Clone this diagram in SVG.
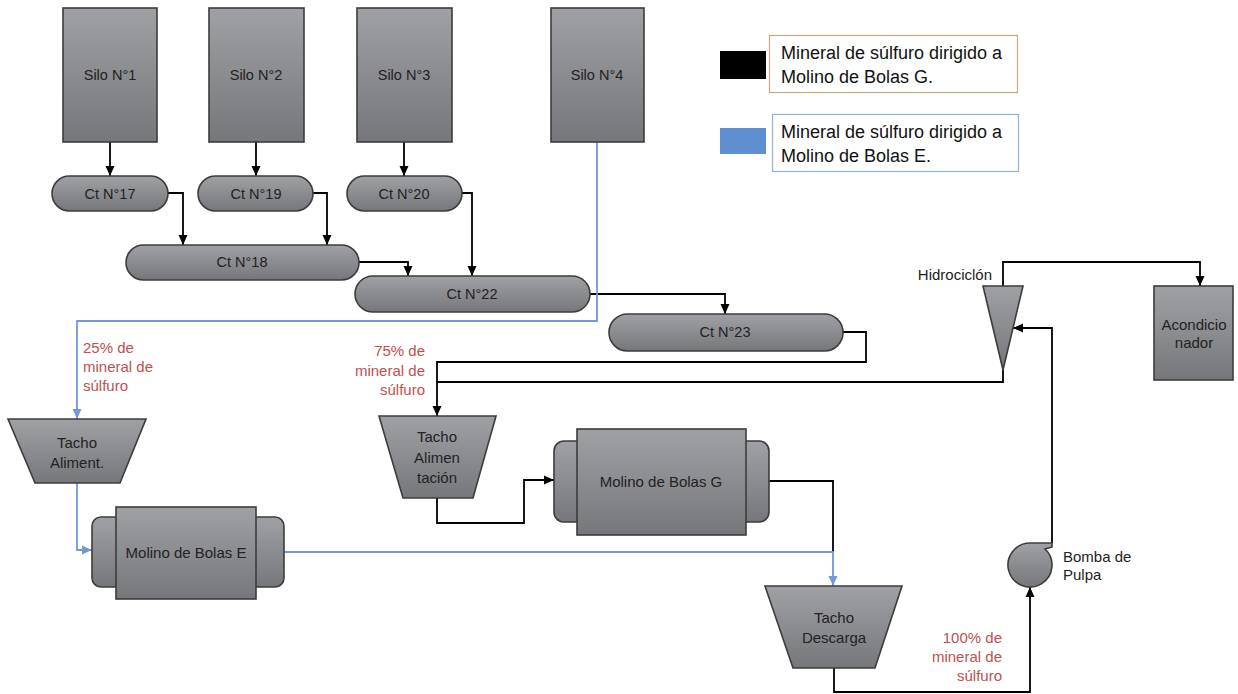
<svg xmlns="http://www.w3.org/2000/svg" width="1238" height="694" viewBox="0 0 1238 694">
  <style>
    .eq { fill: url(#grey); stroke: #3c3c3c; stroke-width: 1.6; }
    .lbl { font-family: "Liberation Sans", Arial, sans-serif; font-size: 14.5px; fill: #222; text-anchor: middle; }
    .lbl15 { font-family: "Liberation Sans", Arial, sans-serif; font-size: 15px; fill: #222; text-anchor: middle; }
    .note { font-family: "Liberation Sans", Arial, sans-serif; font-size: 15px; fill: #C0504D; }
    .side { font-family: "Liberation Sans", Arial, sans-serif; font-size: 15px; fill: #222; }
    .leg { font-family: "Liberation Sans", Arial, sans-serif; font-size: 18px; fill: #111; }
    .blk { fill: none; stroke: #000; stroke-width: 1.8; }
    .blu { fill: none; stroke: #6F9AD3; stroke-width: 1.8; }
  </style>
  <defs>
    <linearGradient id="grey" x1="0" y1="0" x2="0" y2="1">
      <stop offset="0" stop-color="#a0a1a5"/>
      <stop offset="1" stop-color="#76777b"/>
    </linearGradient>
    <marker id="ah" markerUnits="userSpaceOnUse" markerWidth="10" markerHeight="10" viewBox="0 0 10 10" refX="10" refY="5" orient="auto">
      <path d="M0,0.5 L10,5 L0,9.5 Z" fill="#000"/>
    </marker>
    <marker id="ahb" markerUnits="userSpaceOnUse" markerWidth="10" markerHeight="10" viewBox="0 0 10 10" refX="10" refY="5" orient="auto">
      <path d="M0,0.5 L10,5 L0,9.5 Z" fill="#6F9AD3"/>
    </marker>
  </defs>
  <rect width="1238" height="694" fill="#fff"/>

  <!-- flow lines -->
  <g id="connectors">
    <path class="blk" d="M110,142 V176" marker-end="url(#ah)"/>
    <path class="blk" d="M256,142 V176" marker-end="url(#ah)"/>
    <path class="blk" d="M404,142 V176" marker-end="url(#ah)"/>
    <path class="blk" d="M168,193 H183 V245" marker-end="url(#ah)"/>
    <path class="blk" d="M313,193 H327 V245" marker-end="url(#ah)"/>
    <path class="blk" d="M462,193 H472 V276" marker-end="url(#ah)"/>
    <path class="blk" d="M359,262 H408 V276" marker-end="url(#ah)"/>
    <path class="blk" d="M590,294 H725 V314" marker-end="url(#ah)"/>
    <path class="blk" d="M843,332 H866 V362 H437 V416" marker-end="url(#ah)"/>
    <path class="blk" d="M1003,370 V382 H437"/>
    <path class="blk" d="M1003,286 V262 H1200 V286" marker-end="url(#ah)"/>
    <path class="blk" d="M1052,543 V328 H1013" marker-end="url(#ah)"/>
    <path class="blk" d="M437,498 V523 H524 V480 H554" marker-end="url(#ah)"/>
    <path class="blk" d="M769,481 H833 V552"/>
    <path class="blk" d="M834,668 V692 H1030 V587" marker-end="url(#ah)"/>
    <path class="blu" d="M597,142 V321 H77 V419" marker-end="url(#ahb)"/>
    <path class="blu" d="M77,483 V550 H92" marker-end="url(#ahb)"/>
    <path class="blu" d="M284,552 H833 V586" marker-end="url(#ahb)"/>
  </g>

  <!-- silos -->
  <g id="silo1"><rect class="eq" x="63" y="8" width="94" height="134"/><text class="lbl" x="110" y="80">Silo N°1</text></g>
  <g id="silo2"><rect class="eq" x="209" y="8" width="95" height="134"/><text class="lbl" x="256" y="80">Silo N°2</text></g>
  <g id="silo3"><rect class="eq" x="357" y="8" width="95" height="134"/><text class="lbl" x="404" y="80">Silo N°3</text></g>
  <g id="silo4"><rect class="eq" x="551" y="8" width="93" height="134"/><text class="lbl" x="597" y="80">Silo N°4</text></g>

  <!-- conveyors -->
  <g id="ct17"><rect class="eq" x="52" y="176" width="116" height="35" rx="17.5"/><text class="lbl" x="110" y="199">Ct N°17</text></g>
  <g id="ct19"><rect class="eq" x="198" y="176" width="115" height="35" rx="17.5"/><text class="lbl" x="256" y="199">Ct N°19</text></g>
  <g id="ct20"><rect class="eq" x="347" y="176" width="115" height="35" rx="17.5"/><text class="lbl" x="404" y="199">Ct N°20</text></g>
  <g id="ct18"><rect class="eq" x="126" y="245" width="233" height="35" rx="17.5"/><text class="lbl" x="242" y="267">Ct N°18</text></g>
  <g id="ct22"><rect class="eq" x="355" y="276" width="235" height="36" rx="18"/><text class="lbl" x="472" y="299">Ct N°22</text></g>
  <g id="ct23"><rect class="eq" x="609" y="314" width="234" height="37" rx="18.5"/><text class="lbl" x="725" y="337">Ct N°23</text></g>

  <!-- feed bins -->
  <g id="tacho-aliment">
    <polygon class="eq" points="8,419 146,419 120,483 35,483"/>
    <text class="lbl15" x="77" y="448">Tacho</text>
    <text class="lbl15" x="77" y="468">Aliment.</text>
  </g>
  <g id="tacho-alimentacion">
    <polygon class="eq" points="379,416 496,416 473,498 403,498"/>
    <text class="lbl15" x="437" y="442">Tacho</text>
    <text class="lbl15" x="437" y="463">Alimen</text>
    <text class="lbl15" x="437" y="483">tación</text>
  </g>
  <g id="tacho-descarga">
    <polygon class="eq" points="765,586 902,586 875,668 793,668"/>
    <text class="lbl15" x="834" y="623">Tacho</text>
    <text class="lbl15" x="834" y="643">Descarga</text>
  </g>

  <!-- ball mills -->
  <g id="molino-e">
    <rect class="eq" x="92" y="517" width="40" height="70" rx="9"/>
    <rect class="eq" x="244" y="517" width="40" height="70" rx="9"/>
    <rect class="eq" x="116" y="507" width="140" height="92"/>
    <text class="lbl15" x="186" y="558">Molino de Bolas E</text>
  </g>
  <g id="molino-g">
    <rect class="eq" x="554" y="441" width="40" height="81" rx="10"/>
    <rect class="eq" x="729" y="441" width="40" height="81" rx="10"/>
    <rect class="eq" x="577" y="429" width="169" height="106"/>
    <text class="lbl15" x="661" y="487">Molino de Bolas G</text>
  </g>

  <!-- cyclone, conditioner, pump -->
  <g id="hidrociclon">
    <polygon class="eq" points="983,286 1023,286 1003,370"/>
    <text class="side" x="992" y="280" text-anchor="end">Hidrociclón</text>
  </g>
  <g id="acondicionador">
    <rect class="eq" x="1154" y="286" width="79" height="94"/>
    <text class="lbl15" x="1194" y="330">Acondicio</text>
    <text class="lbl15" x="1194" y="348">nador</text>
  </g>
  <g id="bomba">
    <path class="eq" d="M1030,543 H1052 V547 L1045.1,549 A22,22 0 1,1 1030,543 Z"/>
    <text class="side" x="1063" y="562">Bomba de</text>
    <text class="side" x="1063" y="580">Pulpa</text>
  </g>

  <!-- split percentages -->
  <g id="pct25">
    <text class="note" x="83" y="353">25% de</text>
    <text class="note" x="83" y="372">mineral de</text>
    <text class="note" x="83" y="391">súlfuro</text>
  </g>
  <g id="pct75" text-anchor="end">
    <text class="note" x="425" y="356">75% de</text>
    <text class="note" x="425" y="376">mineral de</text>
    <text class="note" x="425" y="395">súlfuro</text>
  </g>
  <g id="pct100" text-anchor="end">
    <text class="note" x="1002" y="643">100% de</text>
    <text class="note" x="1002" y="662">mineral de</text>
    <text class="note" x="1002" y="681">súlfuro</text>
  </g>

  <!-- legend -->
  <g id="legend-g">
    <rect x="720" y="51" width="46" height="28" fill="#000"/>
    <rect x="769.5" y="35.5" width="248" height="57" fill="#fff" stroke="#C9A97A" stroke-width="1.2"/>
    <text class="leg" x="781" y="59">Mineral de súlfuro dirigido a</text>
    <text class="leg" x="781" y="83">Molino de Bolas G.</text>
  </g>
  <g id="legend-e">
    <rect x="720" y="128" width="46" height="26" fill="#5E8FD0"/>
    <rect x="772.5" y="114.5" width="246" height="57" fill="#fff" stroke="#8DB3E2" stroke-width="1.2"/>
    <text class="leg" x="781" y="138">Mineral de súlfuro dirigido a</text>
    <text class="leg" x="781" y="162">Molino de Bolas E.</text>
  </g>
</svg>
